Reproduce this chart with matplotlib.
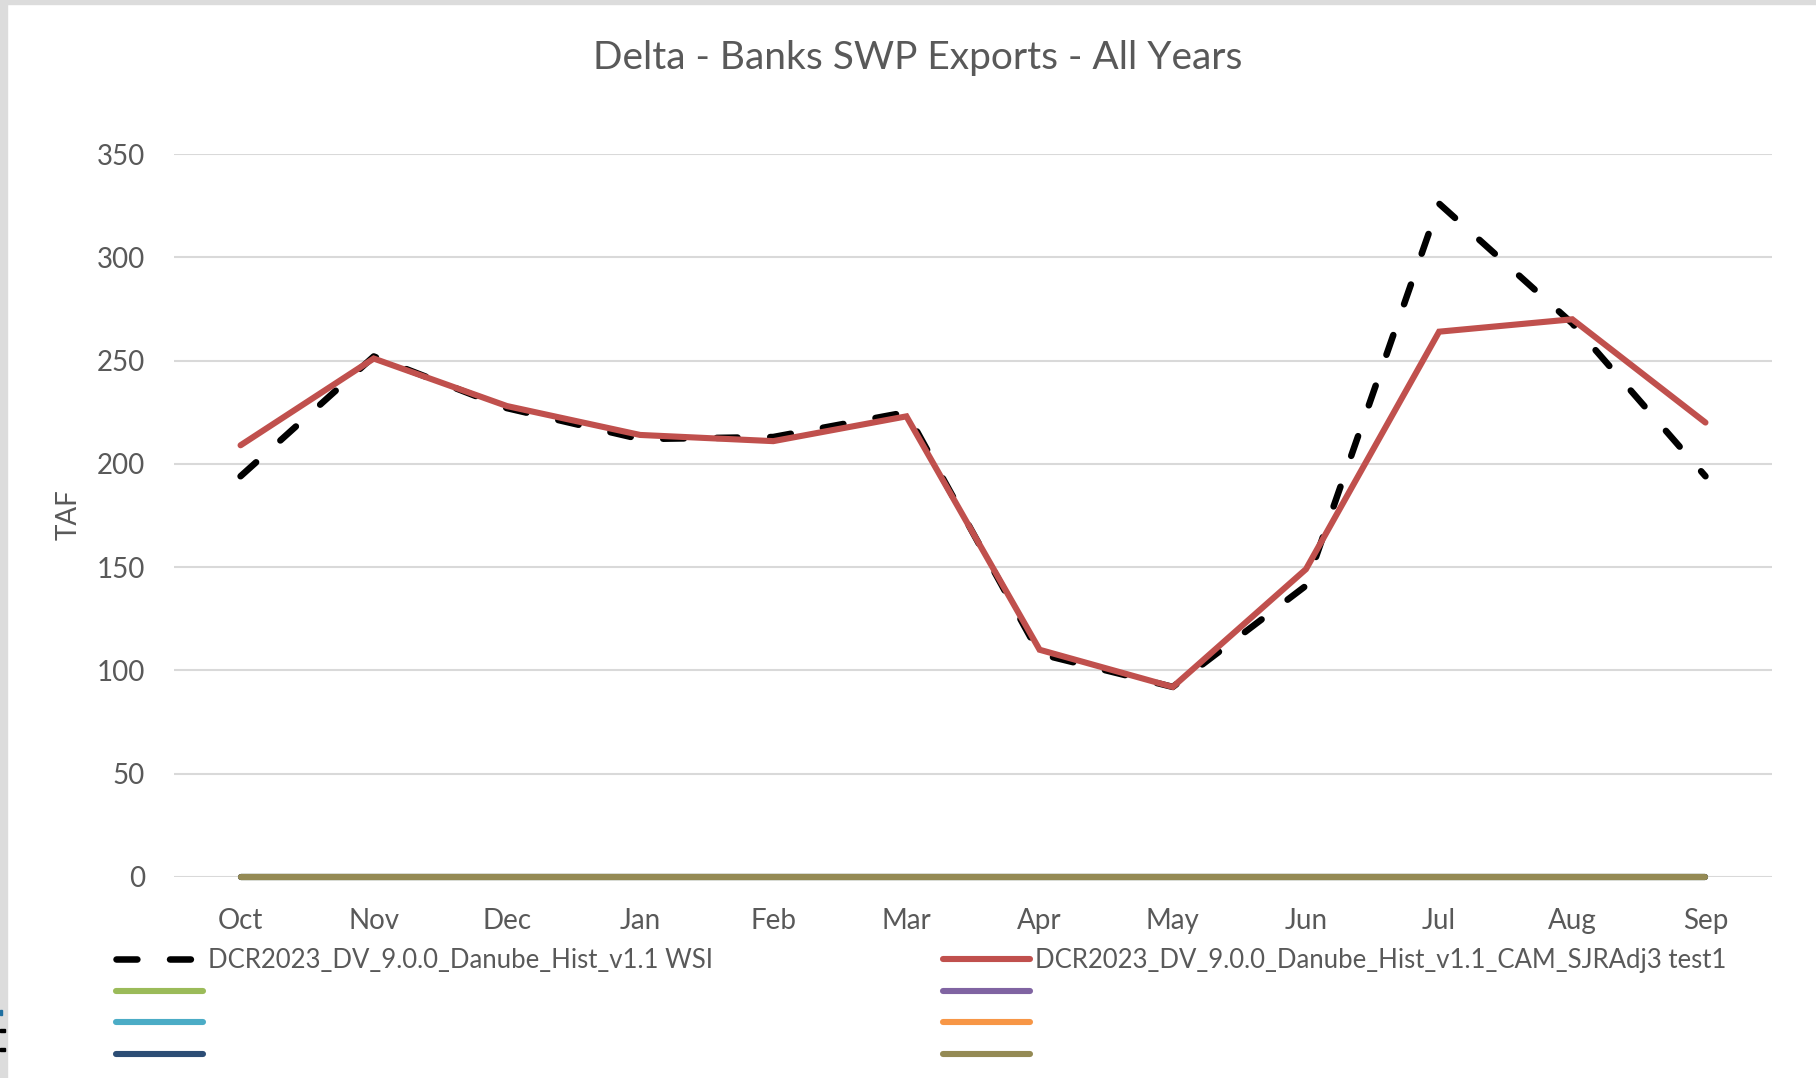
import matplotlib
matplotlib.use("Agg")
import matplotlib.pyplot as plt
from matplotlib.patches import Rectangle

# Monthly SWP exports at Banks, water-year order (TAF)
months = ["Oct", "Nov", "Dec", "Jan", "Feb", "Mar",
          "Apr", "May", "Jun", "Jul", "Aug", "Sep"]
wsi = [194, 252, 227, 212, 213, 225, 108, 92, 141, 326, 268, 194]
cam_test1 = [209, 251, 228, 214, 211, 223, 110, 92, 149, 264, 270, 220]
zeros = [0] * 12

label_wsi = "DCR2023_DV_9.0.0_Danube_Hist_v1.1 WSI"
label_cam = "DCR2023_DV_9.0.0_Danube_Hist_v1.1_CAM_SJRAdj3 test1"

TEXT = "#595959"
GRID = "#D9D9D9"

plt.rcParams["font.family"] = ["Lato", "DejaVu Sans"]

fig = plt.figure(figsize=(18.16, 10.78), dpi=100)
ax = fig.add_axes([0.0958, 0.1865, 0.88, 0.6706])

x = range(len(months))
lw = 4.4
h_wsi, = ax.plot(x, wsi, color="black", lw=4.7, dashes=(3.2, 5.0),
                 dash_capstyle="round", solid_capstyle="round", zorder=3)
h_cam, = ax.plot(x, cam_test1, color="#C0504D", lw=lw,
                 solid_capstyle="round", solid_joinstyle="miter", zorder=4)

# empty placeholder series, all sitting on the zero line
empty_colors = ["#9BBB59", "#8064A2", "#4BACC6", "#F79646", "#2C4D75", "#948A54"]
h_empty = []
for c in empty_colors:
    h, = ax.plot(x, zeros, color=c, lw=lw, solid_capstyle="round",
                 zorder=3, clip_on=False)
    h_empty.append(h)

ax.set_xlim(-0.5, 11.5)
ax.set_ylim(0, 350)
ax.set_yticks(range(0, 351, 50))
ax.set_xticks(list(x))
ax.set_xticklabels(months)
ax.yaxis.grid(True, color=GRID, lw=1.5)
ax.set_axisbelow(True)
for s in ax.spines.values():
    s.set_visible(False)
ax.tick_params(axis="both", length=0, labelsize=20, labelcolor=TEXT)
ax.tick_params(axis="x", pad=22)
ax.tick_params(axis="y", pad=21)

fig.text(69 / 1816, 1 - 515 / 1078, "TAF", rotation=90, ha="center",
         va="center", fontsize=20, color=TEXT)
fig.text(918 / 1816, 1 - 58 / 1078, "Delta - Banks SWP Exports - All Years",
         ha="center", va="center", fontsize=28, color=TEXT)

# two legend columns, placed separately
green, purple, teal, orange, navy, olive = h_empty
leg_kw = dict(loc="upper left", frameon=False, fontsize=18.5, borderpad=0,
              borderaxespad=0, handlelength=3.4, handletextpad=0.2,
              labelspacing=0.26, labelcolor=TEXT)
leg1 = fig.legend([h_wsi, green, teal, navy], [label_wsi, " ", " ", " "],
                  bbox_to_anchor=(116 / 1816, 1 - 948 / 1078), **leg_kw)
leg2 = fig.legend([h_cam, purple, orange, olive], [label_cam, " ", " ", " "],
                  bbox_to_anchor=(943 / 1816, 1 - 948 / 1078), **leg_kw)

# window frame along the left and top edges
fig.patches.append(Rectangle((0, 0), 7 / 1816, 1, transform=fig.transFigure,
                             color="#DCDCDC", zorder=0))
fig.patches.append(Rectangle((0, 1 - 4 / 1078), 1, 4 / 1078,
                             transform=fig.transFigure, color="#DCDCDC", zorder=0))
fig.patches.append(Rectangle((0, 1 - 1032 / 1078), 5 / 1816, 3 / 1078,
                             transform=fig.transFigure, color="black", zorder=1))
fig.patches.append(Rectangle((0, 1 - 1051 / 1078), 5 / 1816, 3 / 1078,
                             transform=fig.transFigure, color="black", zorder=1))
fig.patches.append(Rectangle((0, 1 - 1015 / 1078), 2 / 1816, 5 / 1078,
                             transform=fig.transFigure, color="#1F6FA0", zorder=1))

fig.savefig("out.png", dpi=100, facecolor="white")
